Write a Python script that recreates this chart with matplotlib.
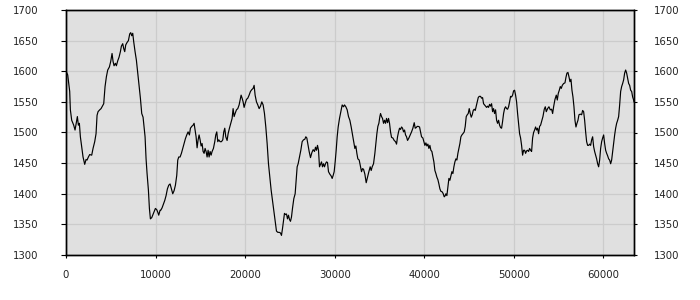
import matplotlib
matplotlib.use("Agg")
import matplotlib.pyplot as plt

x_vals = [0, 190, 300, 413, 488, 637, 860, 1009, 1158, 1270, 1382, 1493, 1605, 1754, 1903, 2089, 2238, 2350, 2499, 2648,
          2871, 3020, 3206, 3355, 3467, 3579, 3765, 3914, 4063, 4212, 4361, 4510, 4659, 4845, 4994, 5143, 5255, 5366,
          5515, 5627, 5776, 5925, 6074, 6186, 6334, 6446, 6558, 6670, 6819, 6968, 7117, 7228, 7340, 7452, 7563, 7712,
          7861, 8010, 8159, 8308, 8457, 8606, 8718, 8830, 8941, 9053, 9202, 9314, 9425, 9574, 9686, 9835, 9984, 10133,
          10245, 10356, 10505,
          10580, 10729, 10878, 11027, 11176, 11325, 11474, 11623, 11772, 11921, 12070, 12219, 12368, 12480, 12591,
          12740, 12889, 13038, 13187, 13336, 13485, 13634, 13783, 13895, 14044, 14193, 14304, 14416, 14528, 14640,
          14751, 14863, 14975, 15087, 15198, 15310, 15422, 15533, 15645, 15757, 15869, 15980, 16092, 16204, 16315,
          16464, 16613, 16725, 16837, 16948, 17060, 17209, 17358, 17507, 17619, 17730, 17842, 17991, 18103, 18252,
          18401, 18550, 18661, 18773, 18885, 19034, 19183, 19332, 19443, 19555, 19667, 19779, 19890, 20002, 20151,
          20300, 20449, 20598, 20747, 20896, 21008, 21119,
          21270, 21419, 21568, 21717, 21866, 22015, 22164, 22313, 22462, 22611, 22760, 22908, 23057, 23206, 23355,
          23504, 23653, 23802, 23951, 24063, 24175, 24286, 24398, 24510, 24622, 24733, 24845, 24957, 25068, 25180,
          25292, 25441, 25590, 25702, 25813, 25925, 26074, 26223, 26372, 26521, 26670, 26782, 26894, 27005, 27154,
          27303, 27452, 27601, 27750, 27862, 27973, 28085, 28197, 28309, 28420, 28532, 28644, 28755, 28867, 28979,
          29091, 29202, 29314, 29463, 29612, 29724, 29835, 29947, 30059, 30171, 30282, 30394, 30543, 30692, 30841,
          30990, 31101, 31250, 31399, 31548,
          31699, 31848, 31997, 32146, 32257, 32369, 32481, 32592, 32741, 32890, 33002, 33114, 33226, 33375, 33524,
          33672, 33821, 33970, 34082, 34194, 34343, 34492, 34603, 34715, 34827, 34939, 35050, 35125, 35237, 35348,
          35460, 35572, 35683, 35795, 35907, 36019, 36130, 36242, 36354, 36503, 36652, 36800, 36912, 37024, 37136,
          37247, 37359, 37471, 37583, 37694, 37806, 37918, 38030, 38141, 38290, 38439, 38588, 38737, 38886, 38998,
          39109, 39221, 39333, 39482, 39594, 39705, 39854, 39966, 40078, 40190, 40301, 40413, 40525, 40636, 40748,
          40860, 40972, 41083, 41195, 41307, 41419, 41530, 41642, 41754, 41865, 42014, 42126, 42238, 42350,
          42423, 42535, 42647, 42759, 42870, 42982, 43094, 43205, 43317, 43429, 43541, 43652, 43764, 43876, 43988,
          44099, 44211, 44323, 44472, 44583, 44695, 44807, 44919, 45030, 45142, 45254, 45365, 45477, 45589, 45701,
          45812, 45924, 46036, 46147, 46296, 46408, 46520, 46631, 46743, 46855, 46967, 47078, 47190, 47302, 47414,
          47525, 47637, 47749, 47860, 47972, 48084, 48196, 48307, 48419, 48531, 48643, 48754, 48866, 48978, 49089,
          49201, 49313, 49425, 49536, 49648, 49760, 49872, 49983, 50095, 50207, 50318, 50430, 50542, 50654, 50765,
          50877, 50989, 51101, 51212, 51324, 51436, 51547, 51659, 51771, 51883, 51994, 52106, 52218, 52329, 52441,
          52553, 52665, 52776, 52888,
          52999, 53113, 53262, 53411, 53523, 53634, 53783, 53932, 54081, 54230, 54342, 54454, 54603, 54752, 54863,
          54975, 55087, 55198, 55310, 55422, 55571, 55720, 55831, 55943, 56055, 56167, 56278, 56390, 56502, 56614,
          56725, 56837, 56949, 57060, 57172, 57284, 57433, 57582, 57693, 57805, 57917, 58029, 58140, 58252, 58364,
          58475, 58587, 58699, 58811, 58922, 59034, 59146, 59257, 59369, 59481, 59593, 59704, 59816, 59928, 60040,
          60151, 60263, 60375, 60486, 60598, 60710, 60822, 60933, 61045, 61157, 61269, 61380, 61492, 61604, 61715,
          61827, 61939, 62051, 62162, 62274, 62386, 62497, 62609, 62721, 62833, 62944, 63056, 63168, 63280, 63391,
          63430]

y_vals = [1600, 1594, 1580, 1567, 1537, 1520, 1512, 1504, 1517, 1526, 1512, 1515, 1493, 1477, 1460, 1448, 1456, 1455,
          1460, 1464, 1463, 1474, 1485, 1498, 1528, 1534, 1537, 1539, 1543, 1547, 1575, 1591, 1602, 1607, 1616, 1629,
          1616, 1609, 1613, 1609, 1617, 1623, 1632, 1641, 1645, 1637, 1632, 1643, 1647, 1650, 1661, 1663, 1658, 1662,
          1648, 1632, 1618, 1597, 1575, 1556, 1531, 1525, 1509, 1493, 1457, 1433, 1406, 1376, 1359, 1361, 1365, 1370,
          1376, 1374, 1370, 1365, 1373,
          1373, 1377, 1383, 1389, 1397, 1408, 1414, 1416, 1408, 1400, 1405, 1414, 1430, 1455, 1460, 1460, 1466, 1474,
          1482, 1490, 1496, 1501, 1496, 1507, 1510, 1512, 1515, 1504, 1493, 1475, 1488, 1496, 1488, 1478, 1482, 1469,
          1466, 1474, 1469, 1460, 1471, 1460, 1469, 1463, 1469, 1474, 1485, 1496, 1501, 1485, 1488, 1485, 1485, 1488,
          1501, 1507, 1493, 1487, 1498, 1507, 1515, 1523, 1539, 1526, 1531, 1537, 1539, 1545, 1553, 1561, 1556, 1550,
          1541, 1547, 1554, 1556, 1561, 1567, 1570, 1572, 1577, 1561,
          1550, 1545, 1539, 1543, 1550, 1545, 1531, 1509, 1482, 1449, 1427, 1406, 1389, 1373, 1356, 1339, 1337, 1337,
          1336, 1332, 1343, 1356, 1368, 1366, 1367, 1359, 1365, 1358, 1355, 1362, 1376, 1392, 1400, 1422, 1444, 1449,
          1460, 1471, 1485, 1488, 1489, 1493, 1491, 1482, 1469, 1459, 1467, 1472, 1469, 1476, 1471, 1479, 1471, 1444,
          1448, 1452, 1444, 1449, 1444, 1449, 1452, 1451, 1436, 1432, 1429, 1425, 1430, 1436, 1452, 1471, 1493, 1509,
          1523, 1534, 1545, 1542, 1545, 1542, 1537, 1526,
          1520, 1509, 1496, 1482, 1474, 1478, 1466, 1457, 1455, 1444, 1436, 1441, 1440, 1432, 1418, 1427, 1436, 1444,
          1438, 1444, 1449, 1466, 1482, 1498, 1510, 1515, 1526, 1531, 1526, 1523, 1515, 1520, 1515, 1523, 1516, 1523,
          1515, 1501, 1492, 1491, 1487, 1485, 1481, 1493, 1501, 1507, 1505, 1509, 1507, 1501, 1504, 1496, 1493, 1487,
          1491, 1496, 1501, 1507, 1516, 1507, 1508, 1510, 1510, 1509, 1501, 1493, 1491, 1485, 1479, 1483, 1478, 1481,
          1474, 1479, 1471, 1469, 1460, 1452, 1438, 1433, 1427, 1423, 1416, 1408, 1404, 1403, 1400, 1395, 1397,
          1400, 1397, 1411, 1425, 1422, 1429, 1436, 1433, 1444, 1452, 1457, 1455, 1466, 1474, 1482, 1493, 1496, 1498,
          1501, 1510, 1526, 1529, 1531, 1539, 1531, 1525, 1529, 1536, 1538, 1536, 1543, 1550, 1557, 1559, 1559, 1556,
          1557, 1547, 1545, 1543, 1541, 1543, 1541, 1546, 1543, 1547, 1534, 1539, 1531, 1537, 1520, 1515, 1520, 1512,
          1508, 1507, 1518, 1531, 1539, 1542, 1539, 1538, 1542, 1550, 1559, 1558, 1561, 1568, 1569, 1561, 1550, 1531,
          1515, 1498, 1491, 1479, 1463, 1471, 1471, 1466, 1470, 1471, 1469, 1474, 1471, 1469, 1491, 1500, 1504, 1509,
          1504, 1507, 1498, 1510,
          1512, 1518, 1526, 1538, 1542, 1534, 1539, 1542, 1537, 1538, 1531, 1542, 1554, 1561, 1553, 1564, 1569, 1575,
          1572, 1577, 1580, 1581, 1590, 1597, 1598, 1591, 1583, 1587, 1569, 1558, 1542, 1520, 1509, 1515, 1520, 1529,
          1530, 1529, 1536, 1534, 1520, 1501, 1485, 1479, 1479, 1481, 1479, 1488, 1493, 1477, 1469, 1463, 1457, 1449,
          1444, 1455, 1474, 1485, 1491, 1496, 1482, 1471, 1466, 1462, 1457, 1455, 1449, 1455, 1469, 1482, 1496, 1507,
          1515, 1520, 1526, 1545, 1567, 1575, 1580, 1586, 1597, 1602, 1597, 1588, 1580, 1577, 1569, 1567, 1558, 1553,
          1550]

x_ticks = [0, 10000, 20000, 30000, 40000, 50000, 60000]
y_ticks = [1300, 1350, 1400, 1450, 1500, 1550, 1600, 1650, 1700]
x_range = (0, 63430)
y_range = (1300, 1700)

fig = plt.figure(figsize=(7, 3), dpi=100)
ax = fig.add_axes([66 / 700, 1 - 255 / 300, (634 - 66) / 700, (255 - 10) / 300])
ax.set_facecolor('#e0e0e0')
ax.plot(x_vals, y_vals, color='black', linewidth=0.85, zorder=3)
ax.set_xlim(*x_range)
ax.set_ylim(*y_range)
ax.set_xticks(x_ticks)
ax.set_yticks(y_ticks)
ax.set_xticklabels([str(t) for t in x_ticks])
ax.grid(True, color='#cccccc', linewidth=0.9, zorder=1)
ax.set_axisbelow(True)
for s in ax.spines.values():
    s.set_color('black')
    s.set_linewidth(1.0)
ax.tick_params(axis='y', left=False, labelleft=True, pad=16.5, labelsize=7.3, labelcolor='#222222')
ax.tick_params(axis='x', direction='out', length=2.5, width=0.8, pad=8, labelsize=7.3, labelcolor='#222222')

ax2 = ax.twinx()
ax2.set_ylim(*y_range)
ax2.set_yticks(y_ticks)
ax2.tick_params(axis='y', direction='out', length=2.5, width=0.8, pad=12, labelsize=7.3, labelcolor='#222222')
for s in ax2.spines.values():
    s.set_color('black')
    s.set_linewidth(1.0)

fig.savefig('out.png', dpi=100)
